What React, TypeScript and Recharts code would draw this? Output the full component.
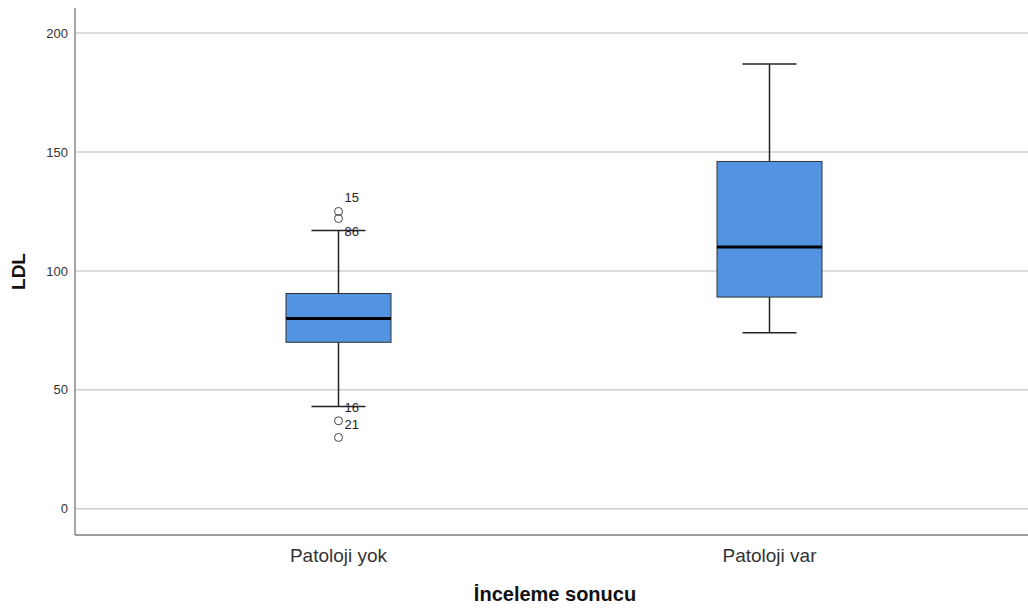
import { ComposedChart, Bar, Scatter, XAxis, YAxis, CartesianGrid, LabelList } from "recharts";

const groups = ["Patoloji yok", "Patoloji var"];
const whiskerLow = [43, 74];
const q1 = [70, 89];
const median = [80, 110];
const q3 = [90.5, 146];
const whiskerHigh = [117, 187];

const outlierGroups = ["Patoloji yok", "Patoloji yok", "Patoloji yok", "Patoloji yok"];
const outlierValues = [125, 122, 37, 30];
const outlierIds = ["15", "86", "16", "21"];

const yTicks = [0, 50, 100, 150, 200];

const boxData = groups.map((g, i) => ({
    group: g,
    lo: whiskerLow[i],
    q1: q1[i],
    med: median[i],
    q3: q3[i],
    hi: whiskerHigh[i],
}));

const outlierData = outlierValues.map((v, i) => ({
    group: outlierGroups[i],
    value: v,
    id: outlierIds[i],
}));

// label offsets (SPSS places them a bit oddly)
const labelDy: Record<string, number> = { "15": -13, "86": 13, "16": -13, "21": -12 };

const FONT = "'Liberation Sans', Arial, sans-serif";
const BOX_FILL = "#5294e2";
const PLOT_TOP = 8;

function BoxShape(props: any) {
    const { x, y, width, height, payload } = props;
    const top = Math.min(y, y + height);
    const h = Math.abs(height);
    const { lo, hi } = payload;
    // linear map between whisker ends (same linear scale as the y axis)
    const py = (v: number) => top + ((hi - v) / (hi - lo)) * h;
    const cx = x + width / 2;
    const cap = 27;
    const yQ1 = py(payload.q1);
    const yQ3 = py(payload.q3);
    const yMed = py(payload.med);
    return (
        <g>
            <line x1={cx} x2={cx} y1={py(hi)} y2={yQ3} stroke="#222" strokeWidth={1.5} />
            <line x1={cx} x2={cx} y1={yQ1} y2={py(lo)} stroke="#222" strokeWidth={1.5} />
            <line x1={cx - cap} x2={cx + cap} y1={py(hi)} y2={py(hi)} stroke="#222" strokeWidth={1.5} />
            <line x1={cx - cap} x2={cx + cap} y1={py(lo)} y2={py(lo)} stroke="#222" strokeWidth={1.5} />
            <rect x={x} y={yQ3} width={width} height={yQ1 - yQ3} fill={BOX_FILL} stroke="#333" strokeWidth={1} />
            <line x1={x} x2={x + width} y1={yMed} y2={yMed} stroke="#000" strokeWidth={3} />
        </g>
    );
}

function OutlierDot(props: any) {
    const { cx, cy } = props;
    return <circle cx={cx} cy={cy} r={4} fill="none" stroke="#444" strokeWidth={1} />;
}

function OutlierLabel(props: any) {
    const { x, y, width, height, value } = props;
    const cx = x + (width || 0) / 2;
    const cy = y + (height || 0) / 2;
    return (
        <text x={cx + 6} y={cy + (labelDy[value] || 0)} dy={4} fontSize={13} fill="#222" fontFamily={FONT}>
            {value}
        </text>
    );
}

function GridLine(p: any) {
    // skip the frame line at the top edge of the plot
    if (Math.abs(p.y1 - PLOT_TOP) < 1) return <g />;
    return <line x1={p.x1} y1={p.y1} x2={p.x2} y2={p.y2} stroke="#cfcfcf" strokeWidth={1.5} />;
}

const NoLine = () => <g />;

export default function App() {
    return (
        <div style={{ position: "absolute", left: 0, top: 0, background: "#fff" }}>
            <ComposedChart
                width={1028}
                height={610}
                data={boxData}
                margin={{ top: PLOT_TOP, right: 0, left: 0, bottom: 0 }}
            >
                {/* grid made a bit wider than the plot so its right frame edge falls off the canvas */}
                <CartesianGrid x={75} width={962} vertical={NoLine} horizontal={GridLine} stroke="none" />
                <XAxis
                    dataKey="group"
                    type="category"
                    allowDuplicatedCategory={false}
                    padding={{ left: 48, right: 43 }}
                    height={75}
                    axisLine={{ stroke: "#888", strokeWidth: 1.5 }}
                    tickLine={false}
                    tick={{ fill: "#333", fontSize: 19, fontFamily: FONT }}
                    tickMargin={8}
                    label={{
                        content: () => (
                            <text
                                x={555}
                                y={601}
                                textAnchor="middle"
                                fontSize={20}
                                fontWeight="bold"
                                fill="#111"
                                fontFamily={FONT}
                            >
                                İnceleme sonucu
                            </text>
                        ),
                    }}
                />
                <YAxis
                    type="number"
                    domain={[-11, 210.5]}
                    ticks={yTicks}
                    width={75}
                    axisLine={{ stroke: "#888", strokeWidth: 1.5 }}
                    tickLine={false}
                    tickMargin={1}
                    tick={{ fill: "#333", fontSize: 13, fontFamily: FONT }}
                    label={{
                        content: (p: any) => {
                            const vb = p.viewBox;
                            const cy = vb.y + vb.height / 2;
                            return (
                                <text
                                    x={18}
                                    y={cy}
                                    transform={`rotate(-90, 18, ${cy})`}
                                    textAnchor="middle"
                                    dominantBaseline="central"
                                    fontSize={19}
                                    fontWeight="bold"
                                    fill="#111"
                                    fontFamily={FONT}
                                >
                                    LDL
                                </text>
                            );
                        },
                    }}
                />
                <Bar
                    dataKey={(d: any) => [d.lo, d.hi]}
                    barSize={105}
                    shape={<BoxShape />}
                    isAnimationActive={false}
                />
                <Scatter
                    data={outlierData}
                    dataKey="value"
                    shape={<OutlierDot />}
                    isAnimationActive={false}
                >
                    <LabelList dataKey="id" content={<OutlierLabel />} />
                </Scatter>
            </ComposedChart>
        </div>
    );
}
